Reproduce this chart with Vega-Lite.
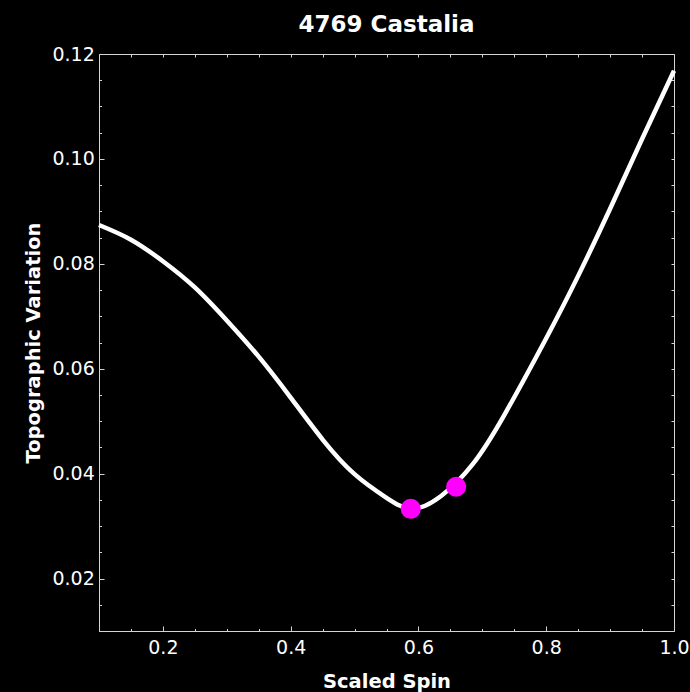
{
  "$schema": "https://vega.github.io/schema/vega-lite/v6.json",
  "width": 575,
  "height": 577,
  "autosize": {"type": "none"},
  "padding": {"left": 99, "top": 54, "right": 16, "bottom": 61},
  "background": "#000000",
  "title": {
    "text": "4769 Castalia",
    "font": "DejaVu Sans",
    "fontSize": 23,
    "fontWeight": "bold",
    "color": "#ffffff",
    "anchor": "middle",
    "frame": "group",
    "offset": 8
  },
  "config": {
    "view": {"stroke": "#d4d4d4", "strokeWidth": 1, "fill": "#000000"},
    "axis": {
      "domain": false,
      "grid": false,
      "tickColor": "#d4d4d4",
      "tickWidth": 1,
      "labelColor": "#ffffff",
      "labelFont": "DejaVu Sans",
      "labelFontSize": 19,
      "labelFlush": false,
      "labelOverlap": false,
      "labelBound": false,
      "titleColor": "#ffffff",
      "titleFont": "DejaVu Sans",
      "titleFontSize": 19.5,
      "titleFontWeight": "bold"
    }
  },
  "datasets": {
    "curve": [
      {"spin": 0.100, "variation": 0.0874},
      {"spin": 0.150, "variation": 0.0846},
      {"spin": 0.200, "variation": 0.0805},
      {"spin": 0.250, "variation": 0.0755},
      {"spin": 0.300, "variation": 0.0692},
      {"spin": 0.350, "variation": 0.0623},
      {"spin": 0.400, "variation": 0.0545},
      {"spin": 0.450, "variation": 0.0465},
      {"spin": 0.500, "variation": 0.0399},
      {"spin": 0.550, "variation": 0.0354},
      {"spin": 0.590, "variation": 0.0333},
      {"spin": 0.635, "variation": 0.0357},
      {"spin": 0.685, "variation": 0.0418},
      {"spin": 0.735, "variation": 0.0513},
      {"spin": 0.800, "variation": 0.0658},
      {"spin": 0.850, "variation": 0.0777},
      {"spin": 0.900, "variation": 0.0905},
      {"spin": 0.950, "variation": 0.1038},
      {"spin": 1.000, "variation": 0.1168}
    ],
    "marked": [
      {"spin": 0.588, "variation": 0.0333},
      {"spin": 0.659, "variation": 0.0375}
    ]
  },
  "layer": [
    {
      "data": {"name": "curve"},
      "mark": {"type": "line", "color": "#ffffff", "strokeWidth": 4.5, "interpolate": "natural"},
      "encoding": {
        "x": {
          "field": "spin",
          "type": "quantitative",
          "scale": {"domain": [0.1, 1.0], "nice": false, "zero": false},
          "axis": {
            "orient": "bottom",
            "title": "Scaled Spin",
            "values": [0.1, 0.15, 0.2, 0.25, 0.3, 0.35, 0.4, 0.45, 0.5, 0.55, 0.6, 0.65, 0.7, 0.75, 0.8, 0.85, 0.9, 0.95, 1.0],
            "tickSize": {"condition": {"test": "abs(datum.value * 5 - round(datum.value * 5)) < 1e-6", "value": -5}, "value": -2.5},
            "labelExpr": "abs(datum.value * 5 - round(datum.value * 5)) < 1e-6 ? format(datum.value, '.1f') : ''",
            "labelPadding": 12.8,
            "titleBaseline": "alphabetic",
            "titleY": 56
          }
        },
        "y": {
          "field": "variation",
          "type": "quantitative",
          "scale": {"domain": [0.01, 0.12], "nice": false, "zero": false},
          "axis": {
            "orient": "left",
            "title": "Topographic Variation",
            "values": [0.01, 0.015, 0.02, 0.025, 0.03, 0.035, 0.04, 0.045, 0.05, 0.055, 0.06, 0.065, 0.07, 0.075, 0.08, 0.085, 0.09, 0.095, 0.1, 0.105, 0.11, 0.115, 0.12],
            "tickSize": {"condition": {"test": "abs(datum.value * 50 - round(datum.value * 50)) < 1e-6", "value": -5}, "value": -2.5},
            "labelExpr": "abs(datum.value * 50 - round(datum.value * 50)) < 1e-6 ? format(datum.value, '.2f') : ''",
            "labelPadding": 9.7,
            "titleBaseline": "alphabetic",
            "titleX": -60
          }
        }
      }
    },
    {
      "data": {"name": "marked"},
      "mark": {"type": "point", "filled": true, "color": "#ff00ff", "opacity": 1, "size": 405},
      "encoding": {
        "x": {
          "field": "spin",
          "type": "quantitative",
          "scale": {"domain": [0.1, 1.0], "nice": false, "zero": false},
          "axis": {
            "orient": "top",
            "title": null,
            "labels": false,
            "values": [0.1, 0.15, 0.2, 0.25, 0.3, 0.35, 0.4, 0.45, 0.5, 0.55, 0.6, 0.65, 0.7, 0.75, 0.8, 0.85, 0.9, 0.95, 1.0],
            "tickSize": -3
          }
        },
        "y": {
          "field": "variation",
          "type": "quantitative",
          "scale": {"domain": [0.01, 0.12], "nice": false, "zero": false},
          "axis": {
            "orient": "right",
            "title": null,
            "labels": false,
            "values": [0.01, 0.015, 0.02, 0.025, 0.03, 0.035, 0.04, 0.045, 0.05, 0.055, 0.06, 0.065, 0.07, 0.075, 0.08, 0.085, 0.09, 0.095, 0.1, 0.105, 0.11, 0.115, 0.12],
            "tickSize": -3
          }
        }
      }
    }
  ],
  "resolve": {"axis": {"x": "independent", "y": "independent"}}
}
